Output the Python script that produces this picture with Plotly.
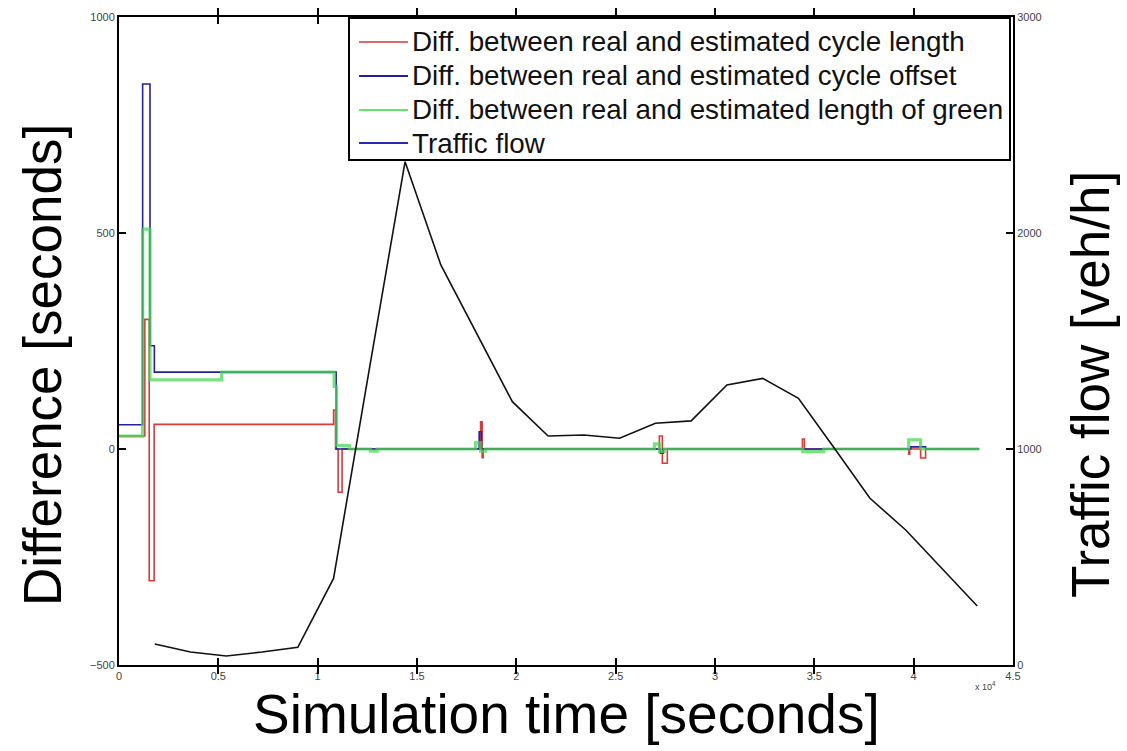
import plotly.graph_objects as go

# ---------------- data ----------------
# Difference between real and estimated cycle length (step series)
red_t = [0, 1300, 1520, 1770, 10800, 10900, 11030, 11230, 18200, 18280, 18330,
         27200, 27350, 27600, 34400, 34500, 39750, 39800, 40350, 40600, 43300]
red_v = [30, 300, -305, 57, 90, 0, -100, 0, 63, -20, 0,
         30, -33, 0, 23, 0, -12, 0, -21, 0, 0]

# Difference between real and estimated cycle offset
blue_t = [0, 1190, 1560, 1780, 10930, 18130, 18240, 27250, 27400, 39850, 40600, 43300]
blue_v = [56, 845, 239, 178, 0, 40, 0, -10, 0, 5, 0, 0]

# Difference between real and estimated length of green
green_t = [0, 1190, 1560, 5170, 10830, 10950, 11600, 12650, 13000, 17950, 18200, 18450,
           26950, 27200, 27450, 34420, 35470, 39750, 40350, 43300]
green_v = [30, 509, 160, 178, 145, 8, 0, -5, 0, 15, -5, 0,
           12, -6, 0, -6, 0, 21, 0, 0]

# Traffic flow [veh/h]
flow_t = [1800, 3600, 5400, 7200, 9000, 10800, 12600, 14400, 16200, 18000, 19800,
          21600, 23400, 25200, 27000, 28800, 30600, 32400, 34200, 36000, 37800,
          39600, 41400, 43200]
flow_v = [97, 60, 42, 60, 82, 401, 1370, 2330, 1852, 1537, 1219,
          1060, 1065, 1050, 1119, 1130, 1296, 1327, 1235, 1005, 772,
          625, 449, 273]

x_tick_vals = [0, 5000, 10000, 15000, 20000, 25000, 30000, 35000, 40000, 45000]
x_tick_text = ["0", "0.5", "1", "1.5", "2", "2.5", "3", "3.5", "4", "4.5"]
y_tick_vals = [-500, 0, 500, 1000]
y2_tick_vals = [0, 1000, 2000, 3000]

names = ["Diff. between real and estimated cycle length",
         "Diff. between real and estimated cycle offset",
         "Diff. between real and estimated length of green",
         "Traffic flow"]
legend_colors = ["#E06A6A", "#22229E", "#66E666", "#2A2AB0"]

# ---------------- figure ----------------
W, H = 1127, 751
ML, MR, MT, MB = 119, 114, 17, 86
PW, PH = W - ML - MR, H - MT - MB


def px(xp):
    return (xp - ML) / PW


def py(yp):
    return (H - MB - yp) / PH


fig = go.Figure()
fig.add_trace(go.Scatter(x=red_t, y=red_v, mode="lines", line_shape="hv",
                         line=dict(color="#D93A3A", width=1.6), name=names[0]))
fig.add_trace(go.Scatter(x=blue_t, y=blue_v, mode="lines", line_shape="hv",
                         line=dict(color="#22229E", width=1.6), name=names[1]))
fig.add_trace(go.Scatter(x=green_t, y=green_v, mode="lines", line_shape="hv",
                         line=dict(color="rgb(70,215,80)", width=3.2), opacity=0.72,
                         name=names[2]))
fig.add_trace(go.Scatter(x=flow_t, y=flow_v, mode="lines", yaxis="y2",
                         line=dict(color="#111111", width=1.6), name=names[3]))

tickfont = dict(family="Liberation Sans, Arial, sans-serif", size=11, color="#444")
axis_common = dict(showgrid=False, zeroline=False, showline=True, linecolor="black",
                   linewidth=2, ticks="inside", ticklen=7, tickwidth=1.5,
                   tickcolor="black", tickfont=tickfont)

fig.update_layout(
    width=W, height=H,
    margin=dict(l=ML, r=MR, t=MT, b=MB, autoexpand=False),
    paper_bgcolor="white", plot_bgcolor="white",
    font=dict(family="Liberation Sans, Arial, sans-serif", color="black"),
    xaxis=dict(range=[0, 45000], tickvals=x_tick_vals, ticktext=x_tick_text,
               mirror="allticks", **axis_common),
    yaxis=dict(range=[-500, 1000], tickvals=y_tick_vals, mirror=False, **axis_common),
    yaxis2=dict(range=[0, 3000], tickvals=y2_tick_vals, overlaying="y", side="right",
                **axis_common),
    showlegend=False,
)

# ---- legend box (drawn as layout shapes + text) ----
fig.add_shape(type="rect", xref="paper", yref="paper",
              x0=px(349), x1=px(1010), y0=py(160), y1=py(18),
              fillcolor="white", line=dict(color="black", width=2), layer="above")
legend_rows = [42, 76, 110, 143]
for name, col, yr in zip(names, legend_colors, legend_rows):
    fig.add_shape(type="line", xref="paper", yref="paper",
                  x0=px(359), x1=px(408), y0=py(yr), y1=py(yr),
                  line=dict(color=col, width=2), layer="above")
    fig.add_annotation(text=name, xref="paper", yref="paper",
                       x=px(410), y=py(yr), xanchor="left", yanchor="middle",
                       showarrow=False,
                       font=dict(family="Liberation Sans, Arial, sans-serif",
                                 size=27.8, color="#111"))

fig.add_annotation(text="Simulation time [seconds]", xref="paper", yref="paper",
                   x=px(566), y=py(714), xanchor="center", yanchor="middle",
                   showarrow=False,
                   font=dict(family="Liberation Sans, Arial, sans-serif", size=55,
                             color="black"))
title_font = dict(family="Liberation Sans, Arial, sans-serif", size=53, color="black")
fig.add_annotation(text="Difference [seconds]", xref="paper", yref="paper",
                   x=px(43), y=py(365), xanchor="center", yanchor="middle",
                   textangle=-90, showarrow=False, font=title_font)
fig.add_annotation(text="Traffic flow [veh/h]", xref="paper", yref="paper",
                   x=px(1090), y=py(385), xanchor="center", yanchor="middle",
                   textangle=-90, showarrow=False, font=title_font)
fig.add_annotation(text="x 10<sup>4</sup>", xref="paper", yref="paper",
                   x=px(985), y=py(686), xanchor="center", yanchor="middle",
                   showarrow=False, font=dict(size=9, color="#444"))

fig.write_html("out.html",
               config={"displayModeBar": False},
               post_script="document.body.style.margin='0px';"
                           "document.body.style.overflow='hidden';")
